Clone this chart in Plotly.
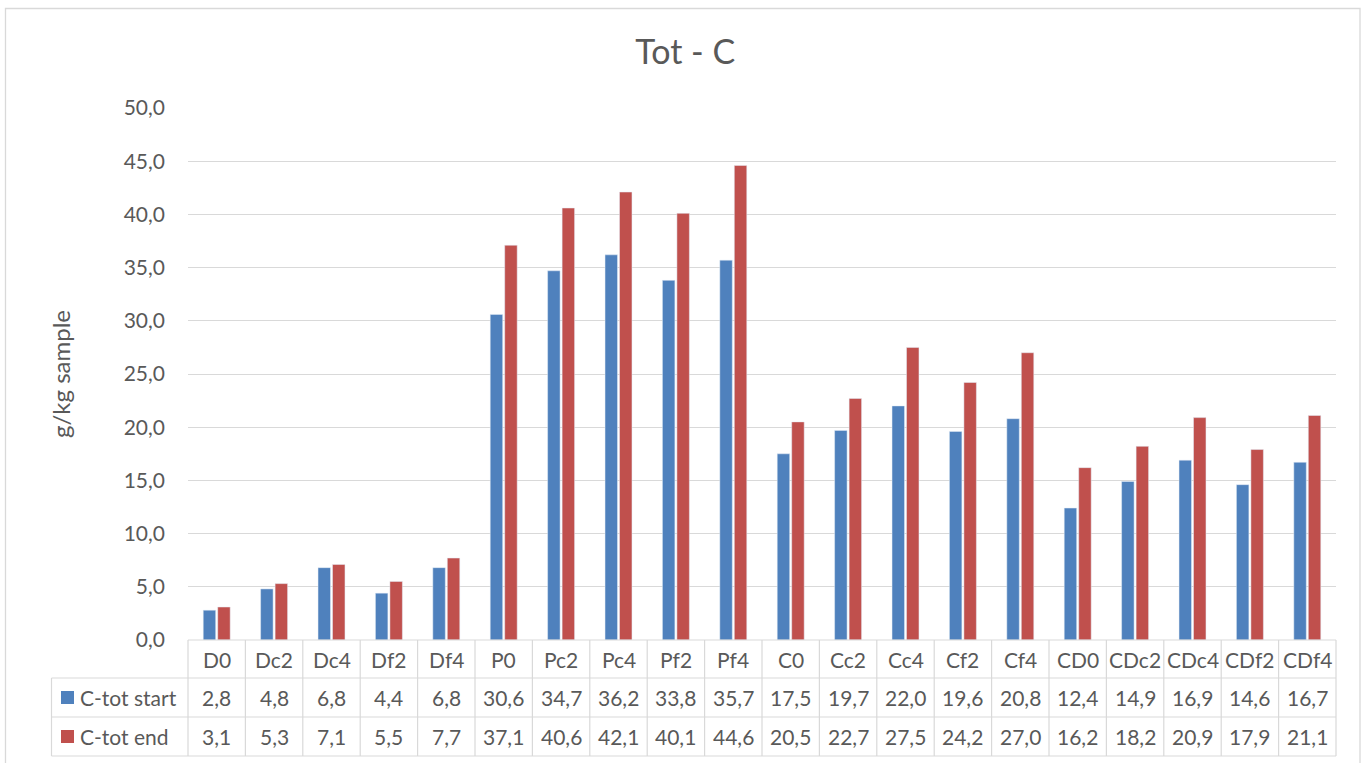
import plotly.graph_objects as go

categories = ["D0", "Dc2", "Dc4", "Df2", "Df4", "P0", "Pc2", "Pc4", "Pf2", "Pf4",
              "C0", "Cc2", "Cc4", "Cf2", "Cf4", "CD0", "CDc2", "CDc4", "CDf2", "CDf4"]
c_tot_start = [2.8, 4.8, 6.8, 4.4, 6.8, 30.6, 34.7, 36.2, 33.8, 35.7,
               17.5, 19.7, 22.0, 19.6, 20.8, 12.4, 14.9, 16.9, 14.6, 16.7]
c_tot_end = [3.1, 5.3, 7.1, 5.5, 7.7, 37.1, 40.6, 42.1, 40.1, 44.6,
             20.5, 22.7, 27.5, 24.2, 27.0, 16.2, 18.2, 20.9, 17.9, 21.1]
series_names = ["C-tot start", "C-tot end"]

BLUE = "#4F81BD"
RED = "#C0504D"
GRAY_TXT = "#595959"
LINE = "#D9D9D9"
FONT = "Lato"

W, H = 1365, 763
ML, MR, MT, MB = 188, 29, 108, 123
PW, PH = W - ML - MR, H - MT - MB


def px_x(x):
    return (x - ML) / PW


def px_y(y):
    return (H - MB - y) / PH


fig = go.Figure()
fig.add_trace(go.Bar(x=categories, y=c_tot_start, name=series_names[0], marker_color=BLUE))
fig.add_trace(go.Bar(x=categories, y=c_tot_end, name=series_names[1], marker_color=RED))

shapes = []
# outer chart border
shapes.append(dict(type="rect", xref="paper", yref="paper",
                   x0=px_x(5.5), x1=px_x(1360), y0=px_y(800), y1=px_y(8.5),
                   line=dict(color=LINE, width=1.3), layer="below"))

# data table grid
row_lines = [640, 678, 717, 756]
legend_left = 51.5
n = len(categories)
for i, yy in enumerate(row_lines):
    x0 = 0 if i == 0 else px_x(legend_left)
    shapes.append(dict(type="line", xref="paper", yref="paper",
                       x0=x0, x1=1, y0=px_y(yy), y1=px_y(yy),
                       line=dict(color=LINE, width=1.2)))
for k in range(n + 1):
    shapes.append(dict(type="line", xref="paper", yref="paper",
                       x0=k / n, x1=k / n, y0=px_y(row_lines[0]), y1=px_y(row_lines[-1]),
                       line=dict(color=LINE, width=1.2)))
shapes.append(dict(type="line", xref="paper", yref="paper",
                   x0=px_x(legend_left), x1=px_x(legend_left),
                   y0=px_y(row_lines[1]), y1=px_y(row_lines[-1]),
                   line=dict(color=LINE, width=1.2)))

annotations = []
row_centers = [(row_lines[i] + row_lines[i + 1]) / 2 for i in range(3)]
tfont = dict(family=FONT, size=21, color=GRAY_TXT)
for i, cat in enumerate(categories):
    annotations.append(dict(x=cat, xref="x", y=px_y(row_centers[0]), yref="paper",
                            text=cat, showarrow=False, font=tfont,
                            xanchor="center", yanchor="middle"))
    annotations.append(dict(x=cat, xref="x", y=px_y(row_centers[1]), yref="paper",
                            text=f"{c_tot_start[i]:.1f}".replace(".", ","),
                            showarrow=False, font=tfont,
                            xanchor="center", yanchor="middle"))
    annotations.append(dict(x=cat, xref="x", y=px_y(row_centers[2]), yref="paper",
                            text=f"{c_tot_end[i]:.1f}".replace(".", ","),
                            showarrow=False, font=tfont,
                            xanchor="center", yanchor="middle"))

# legend keys inside the table
for j, (name, col) in enumerate(zip(series_names, [BLUE, RED])):
    yc = row_centers[j + 1]
    shapes.append(dict(type="rect", xref="paper", yref="paper",
                       x0=px_x(61), x1=px_x(74), y0=px_y(yc + 6.5), y1=px_y(yc - 6.5),
                       fillcolor=col, line=dict(width=0)))
    annotations.append(dict(x=px_x(78), xref="paper", y=px_y(yc), yref="paper",
                            text=name, showarrow=False, xanchor="left", yanchor="middle",
                            font=tfont))

# y axis title
annotations.append(dict(x=px_x(60), xref="paper", y=0.5, yref="paper",
                        text="g/kg sample", textangle=-90, showarrow=False,
                        xanchor="center", yanchor="middle",
                        font=dict(family=FONT, size=24, color=GRAY_TXT)))

fig.update_layout(
    width=W, height=H,
    margin=dict(l=ML, r=MR, t=MT, b=MB),
    paper_bgcolor="white", plot_bgcolor="white",
    separators=",.",
    showlegend=False,
    barmode="group", bargap=0.495, bargroupgap=0.14,
    title=dict(text="Tot - C", xref="container", x=0.502, y=1 - 52 / H,
               xanchor="center", yanchor="middle",
               font=dict(family=FONT, size=34, color=GRAY_TXT)),
    shapes=shapes,
    annotations=annotations,
)
fig.update_xaxes(showticklabels=False, showgrid=False, zeroline=False, showline=False,
                 range=[-0.5, n - 0.5])
fig.update_yaxes(range=[0, 50], dtick=5, tickformat=".1f", showgrid=True,
                 gridcolor=LINE, gridwidth=1.2, zeroline=False, showline=False,
                 tickfont=dict(family=FONT, size=21, color=GRAY_TXT),
                 ticklabelstandoff=22)

fig.write_html("out.html", config={"displayModeBar": False},
               post_script="document.body.style.margin='0';")
